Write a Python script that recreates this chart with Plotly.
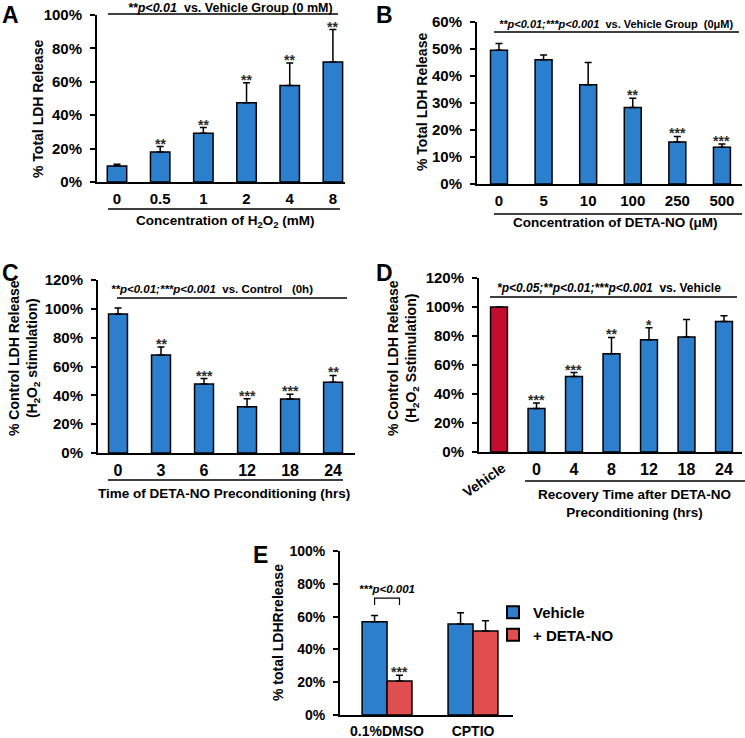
import plotly.graph_objects as go

# ---------------- data ----------------
A_cats = ["0", "0.5", "1", "2", "4", "8"]
A_vals = [9.6, 18.0, 29.2, 47.4, 57.8, 71.8]
A_errs = [1.0, 3.2, 3.4, 12.0, 13.5, 19.5]
A_stars = ["", "**", "**", "**", "**", "**"]

B_cats = ["0", "5", "10", "100", "250", "500"]
B_vals = [49.5, 46.0, 36.8, 28.3, 15.6, 13.6]
B_errs = [2.5, 1.8, 8.2, 3.5, 2.0, 1.2]
B_stars = ["", "", "", "**", "***", "***"]

C_cats = ["0", "3", "6", "12", "18", "24"]
C_vals = [96.5, 68.0, 47.8, 32.0, 37.5, 49.0]
C_errs = [4.0, 5.5, 3.8, 5.6, 3.2, 4.8]
C_stars = ["", "**", "***", "***", "***", "**"]

D_cats = ["Vehicle", "0", "4", "8", "12", "18", "24"]
D_vals = [100.0, 30.0, 52.0, 67.7, 77.5, 79.3, 90.0]
D_errs = [0.0, 3.8, 2.8, 11.3, 8.2, 12.0, 4.0]
D_stars = ["", "***", "***", "**", "*", "", ""]

E_groups = ["0.1%DMSO", "CPTIO"]
E_vehicle = [56.8, 55.5]
E_vehicle_err = [3.8, 6.8]
E_deta = [20.8, 51.2]
E_deta_err = [3.5, 6.2]
E_stars_deta = ["***", ""]

# ---------------- style ----------------
W, H = 745, 738
FAM = "Liberation Sans, Arial, sans-serif"
BLUE = "#2B7FCC"
DRED = "#C40C2E"
LRED = "#E04E50"


def fx(p):
    return p / W


def fy(p):
    return 1 - p / H


def bfont(size, color="black"):
    return dict(family=FAM, size=size, color=color, weight="bold")


fig = go.Figure()


def err(arr):
    return dict(type="data", array=arr, arrayminus=[0] * len(arr), symmetric=False,
                color="black", thickness=1.5, width=3.5)


LINE = dict(color="black", width=1.5)

fig.add_trace(go.Bar(x=A_cats, y=A_vals, error_y=err(A_errs), marker=dict(color=BLUE, line=LINE),
                     width=0.45, xaxis="x", yaxis="y", showlegend=False))
fig.add_trace(go.Bar(x=B_cats, y=B_vals, error_y=err(B_errs), marker=dict(color=BLUE, line=LINE),
                     width=0.38, xaxis="x2", yaxis="y2", showlegend=False))
fig.add_trace(go.Bar(x=C_cats, y=C_vals, error_y=err(C_errs), marker=dict(color=BLUE, line=LINE),
                     width=0.44, xaxis="x3", yaxis="y3", showlegend=False))
fig.add_trace(go.Bar(x=D_cats, y=D_vals, error_y=err(D_errs),
                     marker=dict(color=[DRED] + [BLUE] * (len(D_cats) - 1), line=LINE),
                     width=0.45, xaxis="x4", yaxis="y4", showlegend=False))
fig.add_trace(go.Bar(x=E_groups, y=E_vehicle, error_y=err(E_vehicle_err), name="Vehicle",
                     marker=dict(color=BLUE, line=LINE), width=0.29, offset=-0.29,
                     xaxis="x5", yaxis="y5"))
fig.add_trace(go.Bar(x=E_groups, y=E_deta, error_y=err(E_deta_err), name="+ DETA-NO",
                     marker=dict(color=LRED, line=LINE), width=0.29, offset=0.0,
                     xaxis="x5", yaxis="y5"))


def xax(dom, rng, anchor, size=15):
    return dict(type="category", domain=[fx(dom[0]), fx(dom[1])], range=rng, anchor=anchor,
                showline=True, linecolor="black", linewidth=2, ticks="", showgrid=False,
                zeroline=False, tickfont=bfont(size), fixedrange=True, ticklabelstandoff=2,
                automargin=False)


def yax(dom, rng, dtick, anchor, size=15):
    return dict(domain=[fy(dom[0]), fy(dom[1])], range=rng, anchor=anchor, showline=True,
                linecolor="black", linewidth=2, ticks="outside", ticklen=5, tickwidth=1.5,
                tickcolor="black", dtick=dtick, ticksuffix="%", showgrid=False, zeroline=False,
                tickfont=bfont(size), fixedrange=True, ticklabelstandoff=5, automargin=False)


layout = dict(
    width=W, height=H, margin=dict(l=0, r=0, t=0, b=0, pad=0, autoexpand=False), autosize=False,
    paper_bgcolor="white", plot_bgcolor="white", barmode="overlay",
    font=dict(family=FAM, color="black"),
    xaxis=xax((97, 345), [-0.463, 5.28], "y"),
    yaxis=yax((182, 15), [0, 100], 20, "x"),
    xaxis2=xax((477, 742), [-0.493, 5.45], "y2"),
    yaxis2=yax((184, 22), [0, 60], 10, "x2"),
    xaxis3=xax((98, 355), [-0.465, 5.51], "y3", size=16),
    yaxis3=yax((453, 280), [0, 120], 20, "x3"),
    xaxis4=xax((479, 742), [-0.533, 6.48], "y4", size=16),
    yaxis4=yax((452, 278), [0, 120], 20, "x4"),
    xaxis5=xax((340, 513), [-0.547, 1.465], "y5", size=14),
    yaxis5=yax((715, 551), [0, 100], 20, "x5", size=14),
    legend=dict(x=fx(493), y=fy(596), xanchor="left", yanchor="top", font=bfont(15),
                bgcolor="rgba(0,0,0,0)", tracegroupgap=0, itemsizing="constant"),
)
# D: hide "Vehicle" tick text (drawn rotated below)
layout["xaxis4"]["tickmode"] = "array"
layout["xaxis4"]["tickvals"] = D_cats
layout["xaxis4"]["ticktext"] = [""] + D_cats[1:]
fig.update_layout(**layout)

ann = []
shapes = []

# stars above error bars (x given as category index)
for cats, vals, errs, stars, xr, yr in [
    (A_cats, A_vals, A_errs, A_stars, "x", "y"),
    (B_cats, B_vals, B_errs, B_stars, "x2", "y2"),
    (C_cats, C_vals, C_errs, C_stars, "x3", "y3"),
    (D_cats, D_vals, D_errs, D_stars, "x4", "y4"),
]:
    for i, (v, e, s) in enumerate(zip(vals, errs, stars)):
        if s:
            ann.append(dict(x=i, y=v + e, xref=xr, yref=yr, text=s, showarrow=False,
                            yanchor="bottom", yshift=-7, font=bfont(14, "#2a2a2a")))
for i, s in enumerate(E_stars_deta):
    if s:
        ann.append(dict(x=i + 0.145, y=E_deta[i] + E_deta_err[i], xref="x5", yref="y5", text=s,
                        showarrow=False, yanchor="bottom", yshift=-7, font=bfont(14, "#2a2a2a")))

# panel letters
for letter, px_, py_, anc in [("A", 10, 0, "top"), ("B", 384, 0, "top"),
                              ("C", 10, 273, "middle"), ("D", 384, 273, "middle"),
                              ("E", 260, 555, "middle")]:
    ann.append(dict(x=fx(px_), y=fy(py_), xref="paper", yref="paper", text=letter, showarrow=False,
                    xanchor="center", yanchor=anc, font=bfont(23)))

# significance header texts
for txt, cx, cy, fs in [
    ("<i>**p&lt;0.01</i>  vs. Vehicle Group (0 mM)", 231, 8, 12.5),
    ("<i>**p&lt;0.01;***p&lt;0.001</i>  vs. Vehicle Group  (0μM)", 616, 24, 11),
    ("<i>**p&lt;0.01;***p&lt;0.001</i>  vs. Control   (0h)", 212, 289, 11.5),
    ("<i>*p&lt;0.05;**p&lt;0.01;***p&lt;0.001</i>  vs. Vehicle", 609, 288, 12),
]:
    ann.append(dict(x=fx(cx), y=fy(cy), xref="paper", yref="paper", text=txt, showarrow=False,
                    xanchor="center", yanchor="middle", font=bfont(fs)))

# header lines and underline lines
for x0, x1, yy in [(108, 338, 14), (494, 739, 32), (117, 347, 298), (490, 737, 297),
                   (108, 340, 209), (494, 742, 214), (108, 343, 480), (525, 745, 481)]:
    shapes.append(dict(type="line", xref="paper", yref="paper", x0=fx(x0), x1=fx(x1),
                       y0=fy(yy), y1=fy(yy), line=dict(color="black", width=1.5)))

# x-axis titles
for txt, cx, cy in [
    ("Concentration of H<sub>2</sub>O<sub>2</sub> (mM)", 225, 221),
    ("Concentration of DETA-NO (μM)", 615, 223),
    ("Time of DETA-NO Preconditioning (hrs)", 224, 493),
    ("Recovery Time after DETA-NO<br>Preconditioning (hrs)", 634, 503),
]:
    ann.append(dict(x=fx(cx), y=fy(cy), xref="paper", yref="paper", text=txt, showarrow=False,
                    xanchor="center", yanchor="middle", font=bfont(13.5)))

# y-axis titles
for txt, cx, cy in [
    ("% Total LDH Release", 38, 109),
    ("% Total LDH Release", 422, 102),
    ("% Control LDH Release<br>(H<sub>2</sub>O<sub>2</sub> stimulation)", 24, 358),
    ("% Control LDH Release<br>(H<sub>2</sub>O<sub>2</sub> Sstimulation)", 403, 358),
    ("% total LDHRrelease", 278, 633),
]:
    ann.append(dict(x=fx(cx), y=fy(cy), xref="paper", yref="paper", text=txt, showarrow=False,
                    xanchor="center", yanchor="middle", textangle=-90, font=bfont(14)))

# rotated "Vehicle" tick label for D
ann.append(dict(x=0, y=fy(480), xref="x4", yref="paper", xshift=-15, text=D_cats[0],
                showarrow=False, textangle=-35, xanchor="center", yanchor="middle", font=bfont(14)))

# E bracket
shapes.append(dict(type="path", xref="x5", yref="y5",
                   path="M -0.145,67 L -0.145,71.3 L 0.145,71.3 L 0.145,67",
                   line=dict(color="black", width=1.2)))
ann.append(dict(x=0, y=76.8, xref="x5", yref="y5", text="<i>***p&lt;0.001</i>", showarrow=False,
                xanchor="center", yanchor="middle", font=bfont(11.5)))

fig.update_layout(annotations=ann, shapes=shapes)
fig.write_html("out.html", config={"displayModeBar": False},
               post_script="document.body.style.margin='0';document.body.style.overflow='hidden';")
